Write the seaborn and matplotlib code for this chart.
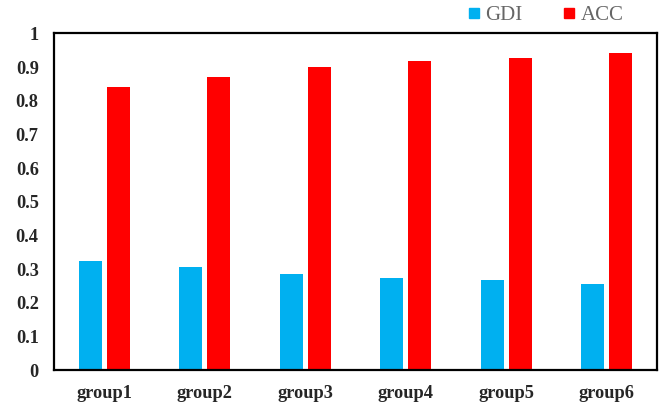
import matplotlib
matplotlib.use("Agg")
import matplotlib.pyplot as plt
from matplotlib.lines import Line2D
from matplotlib.ticker import FuncFormatter
import seaborn as sns
import pandas as pd

groups = ["group1", "group2", "group3", "group4", "group5", "group6"]
gdi = [0.325, 0.307, 0.286, 0.274, 0.267, 0.255]
acc = [0.840, 0.872, 0.899, 0.917, 0.928, 0.941]
series = ["GDI", "ACC"]
colors = {"GDI": "#00B0F0", "ACC": "#FF0000"}
y_ticks = [0, 0.1, 0.2, 0.3, 0.4, 0.5, 0.6, 0.7, 0.8, 0.9, 1.0]

df = pd.DataFrame({
    "group": groups * 2,
    "metric": ["GDI"] * len(groups) + ["ACC"] * len(groups),
    "value": gdi + acc,
})

sns.set_style("white")
plt.rcParams["font.family"] = ["Liberation Serif", "DejaVu Serif"]

fig = plt.figure(figsize=(6.71, 4.08), dpi=100)
ax = fig.add_axes([0.0805, 0.0931, 0.8985, 0.825])

sns.barplot(data=df, x="group", y="value", hue="metric", hue_order=series,
            palette=colors, width=0.56, gap=0.18, saturation=1,
            edgecolor="none", legend=False, ax=ax)

ax.set_xlim(-0.5, len(groups) - 0.5)
ax.set_ylim(0, 1)
ax.set_yticks(y_ticks)
ax.yaxis.set_major_formatter(FuncFormatter(lambda v, _: f"{v:g}"))
ax.set_xlabel("")
ax.set_ylabel("")
ax.tick_params(axis="both", length=0, labelsize=13.2)
ax.tick_params(axis="y", pad=11)
ax.tick_params(axis="x", pad=11)
for lab in ax.get_xticklabels() + ax.get_yticklabels():
    lab.set_fontweight("bold")

for side in ["left", "right", "top", "bottom"]:
    ax.spines[side].set_visible(True)
    ax.spines[side].set_color("black")
    ax.spines[side].set_linewidth(1.6)

handles = [Line2D([0], [0], marker="s", linestyle="none", markersize=7,
                  markerfacecolor=colors[s], markeredgecolor=colors[s], label=s)
           for s in series]
fig.legend(handles=handles, loc="center", bbox_to_anchor=(0.812, 0.963),
           ncol=2, frameon=False, fontsize=15, handlelength=0.7,
           handletextpad=0.2, columnspacing=1.9, labelcolor="#666666",
           borderpad=0, borderaxespad=0)

fig.savefig("out.png", dpi=100, facecolor="white")
